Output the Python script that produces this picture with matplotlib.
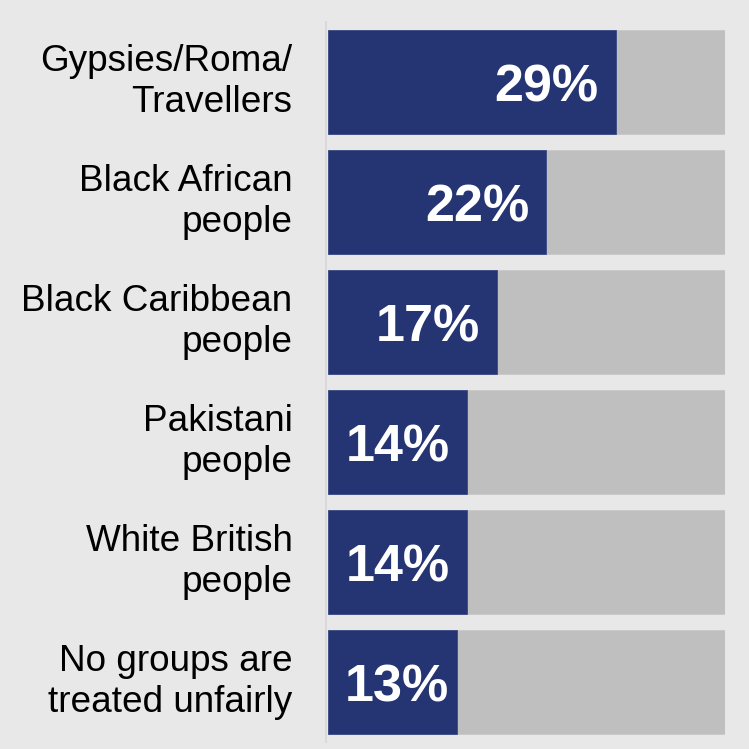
import numpy as np
import matplotlib
matplotlib.use('Agg')
from matplotlib import pyplot as plt

# Data.
GROUPS = ['Gypsies/Roma/\nTravellers', 'Black African\npeople',
          'Black Caribbean\npeople', 'Pakistani\npeople',
          'White British\npeople', 'No groups are\ntreated unfairly']
SHARES = [29, 22, 17, 14, 14, 13]
SCALE_MAX = 40

BG_COLOR = '#e8e8e8'
BAR_COLOR = '#253574'
TRACK_COLOR = '#bfbfbf'

plt.rcParams['font.family'] = ['Liberation Sans', 'DejaVu Sans']

fig = plt.figure(figsize=(7.49, 7.49), dpi=100, facecolor=BG_COLOR)
ax = fig.add_axes([328/749, 7/749, 397/749, 720/749], facecolor=BG_COLOR)

y_pos = np.arange(len(GROUPS))
bar_h = 104/120

# Grey track behind each bar, then the actual share on top.
ax.barh(y_pos, [SCALE_MAX]*len(GROUPS), height=bar_h, color=TRACK_COLOR,
        edgecolor='#c8c8c8', linewidth=0.6)
ax.barh(y_pos, SHARES, height=bar_h, color=BAR_COLOR,
        edgecolor='#3a4a86', linewidth=0.6)

ax.set_xlim(0, SCALE_MAX)
ax.set_ylim(len(GROUPS) - 0.5, -0.5)

# value labels sit on the baseline, ~21px under the bar centre
pad = 17/397*SCALE_MAX
base_off = 20/120
for y, v in zip(y_pos, SHARES):
    if v >= 14:
        ax.text(v - pad, y + base_off, f'{v}%', ha='right', va='baseline',
                color='white', fontsize=37.5, fontweight='bold')
    else:
        ax.text(pad, y + base_off, f'{v}%', ha='left', va='baseline',
                color='white', fontsize=37.5, fontweight='bold')

# category labels as annotations (right aligned, left of the axis line)
for y, name in zip(y_pos, GROUPS):
    ax.annotate(name, xy=(0, y), xycoords=('axes fraction', 'data'),
                xytext=(-25.5, 0), textcoords='offset points',
                ha='right', va='center', fontsize=26.6, linespacing=1.2,
                annotation_clip=False)

ax.set_yticks([])
ax.set_xticks([])

for side in ['top', 'right', 'bottom']:
    ax.spines[side].set_visible(False)
ax.spines['left'].set_color('#d9d9d9')
ax.spines['left'].set_linewidth(1.4)
ax.spines['left'].set_position(('outward', 1.2))

plt.savefig('out.png', dpi=100, facecolor=BG_COLOR)
